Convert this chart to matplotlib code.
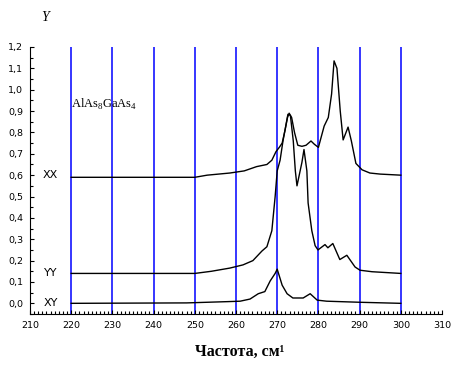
import matplotlib
matplotlib.use("Agg")
import matplotlib.pyplot as plt
from matplotlib.ticker import MultipleLocator, FuncFormatter

plt.rcParams["mathtext.fontset"] = "custom"
plt.rcParams["mathtext.rm"] = "Liberation Serif"

# данные
xx_freq = [220, 250, 253, 258.5, 262, 265, 267.5, 268.7, 269.7, 270.5, 271.2, 271.9, 272.5,
           272.9, 273.5, 274.2, 275, 276, 277, 278.2, 279, 280, 281.4, 282.4, 283.2, 283.8,
           284.5, 285.3, 286, 287.2, 288, 289.1, 290.6, 292.5, 295, 300]
xx_val = [0.59, 0.59, 0.60, 0.61, 0.62, 0.64, 0.65, 0.67, 0.71, 0.73, 0.75, 0.81, 0.87,
          0.89, 0.87, 0.80, 0.74, 0.735, 0.74, 0.76, 0.745, 0.73, 0.83, 0.87, 0.98, 1.135,
          1.10, 0.90, 0.765, 0.825, 0.76, 0.655, 0.625, 0.61, 0.605, 0.60]

yy_freq = [220, 250, 254, 258.5, 261.7, 264.1, 266.3, 267.5, 268.7, 269.5, 270, 270.7,
           271.4, 272.6, 273.2, 273.9, 274.4, 274.8, 276, 276.5, 277.2, 277.5, 278.4,
           279.2, 279.9, 281.6, 282.3, 283.5, 285.2, 286.9, 288.9, 290.1, 293, 300]
yy_val = [0.14, 0.14, 0.15, 0.165, 0.18, 0.20, 0.245, 0.265, 0.34, 0.50, 0.62, 0.67,
          0.76, 0.885, 0.88, 0.76, 0.62, 0.55, 0.66, 0.72, 0.62, 0.47, 0.34,
          0.27, 0.25, 0.275, 0.26, 0.28, 0.205, 0.225, 0.17, 0.155, 0.148, 0.14]

xy_freq = [220, 248, 258, 261, 263.4, 265.4, 267, 268.3, 269.5, 270, 271.2, 272.4,
           273.8, 276.3, 278, 279.7, 282, 290, 300]
xy_val = [0.0, 0.002, 0.008, 0.01, 0.02, 0.045, 0.055, 0.105, 0.14, 0.16, 0.085, 0.045,
          0.025, 0.025, 0.045, 0.015, 0.01, 0.005, 0.0]

grid_x = [220, 230, 240, 250, 260, 270, 280, 290, 300]
curve_labels = [("XX", 0.6), ("YY", 0.14), ("XY", 0.0)]

fig = plt.figure(figsize=(4.6, 3.68), dpi=100)
ax = fig.add_axes([0.0652, 0.1467, 0.8957, 0.7256])

# синие вертикальные линии
for gx in grid_x:
    ax.plot([gx, gx], [-0.05, 1.2], color="#0000ff", lw=1.1, zorder=1)

for f, v in [(xx_freq, xx_val), (yy_freq, yy_val), (xy_freq, xy_val)]:
    ax.plot(f, v, color="black", lw=1.0, zorder=2)

ax.set_xlim(210, 310)
ax.set_ylim(-0.05, 1.2)
ax.spines["top"].set_visible(False)
ax.spines["right"].set_visible(False)
ax.spines["left"].set_bounds(-0.05, 1.2)

ax.xaxis.set_major_locator(MultipleLocator(10))
ax.xaxis.set_minor_locator(MultipleLocator(1))
ax.yaxis.set_minor_locator(MultipleLocator(0.05))
ax.set_yticks([i / 10 for i in range(13)])
ax.yaxis.set_major_formatter(FuncFormatter(lambda v, p: f"{v:.1f}".replace(".", ",")))
ax.tick_params(which="major", direction="in", length=3, width=0.8, labelsize=6.8, pad=5)
ax.tick_params(which="minor", direction="in", length=2, width=0.8)

for name, yv in curve_labels:
    ax.text(215, yv, name, fontsize=8, ha="center", va="center")

ax.text(220, 0.93, "AlAs$_8$GaAs$_4$", fontsize=9, family="Liberation Serif",
        ha="left", va="center")

fig.text(0.098, 0.953, "Y", fontsize=10, style="italic", family="Liberation Serif",
         ha="center", va="center")
fig.text(0.52, 0.043, "Частота, см¹", fontsize=11.5, weight="bold",
         family="Liberation Serif", ha="center", va="center")

fig.savefig("out.png", dpi=100)
